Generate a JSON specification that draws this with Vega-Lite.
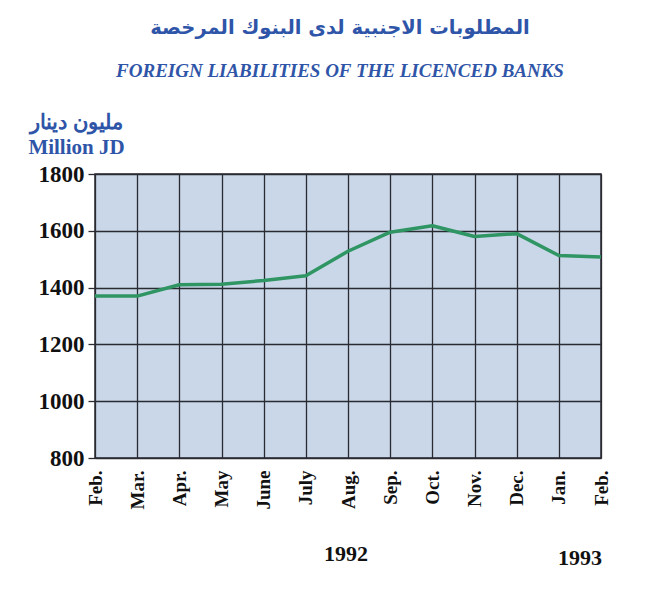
{
  "$schema": "https://vega.github.io/schema/vega-lite/v6.json",
  "autosize": "none",
  "width": 506,
  "height": 284,
  "padding": {"left": 95, "top": 174, "right": 49, "bottom": 143},
  "background": "white",
  "title": {
    "text": "المطلوبات الاجنبية لدى البنوك المرخصة",
    "subtitle": "FOREIGN LIABILITIES OF THE LICENCED BANKS",
    "anchor": "middle",
    "frame": "group",
    "offset": 29,
    "dx": -8,
    "font": "DejaVu Sans",
    "fontSize": 19.5,
    "fontWeight": "bold",
    "color": "#2f55a8",
    "subtitleFont": "Liberation Serif",
    "subtitleFontSize": 19,
    "subtitleFontWeight": "bold",
    "subtitleFontStyle": "italic",
    "subtitleColor": "#2f55a8",
    "subtitlePadding": 24
  },
  "config": {
    "view": {"fill": "#c9d7e9", "stroke": "#2a2a33", "strokeWidth": 1.5}
  },
  "datasets": {
    "series": [
      {"month": "Feb. 1992", "value": 1370},
      {"month": "Mar. 1992", "value": 1370},
      {"month": "Apr. 1992", "value": 1410},
      {"month": "May 1992", "value": 1412},
      {"month": "June 1992", "value": 1425},
      {"month": "July 1992", "value": 1442},
      {"month": "Aug. 1992", "value": 1528},
      {"month": "Sep. 1992", "value": 1595},
      {"month": "Oct. 1992", "value": 1618},
      {"month": "Nov. 1992", "value": 1580},
      {"month": "Dec. 1992", "value": 1590},
      {"month": "Jan. 1993", "value": 1513},
      {"month": "Feb. 1993", "value": 1508}
    ]
  },
  "layer": [
    {
      "data": {"name": "series"},
      "mark": {"type": "line", "color": "#2e9563", "strokeWidth": 3.5, "strokeJoin": "round"},
      "encoding": {
        "x": {
          "field": "month",
          "type": "ordinal",
          "sort": null,
          "scale": {"type": "point", "padding": 0},
          "axis": {
            "title": null,
            "labelExpr": "split(datum.value, ' ')[0]",
            "labelAngle": -90,
            "labelAlign": "right",
            "labelBaseline": "middle",
            "labelFont": "Liberation Serif",
            "labelFontSize": 19,
            "labelFontWeight": "bold",
            "labelColor": "#111111",
            "labelPadding": 12,
            "ticks": false,
            "domain": false,
            "grid": true,
            "gridColor": "#2a2a33",
            "gridWidth": 1.3,
            "gridOpacity": 1
          }
        },
        "y": {
          "field": "value",
          "type": "quantitative",
          "scale": {"domain": [800, 1800], "nice": false, "zero": false},
          "axis": {
            "values": [800, 1000, 1200, 1400, 1600, 1800],
            "format": "d",
            "title": ["مليون دينار", "Million JD"],
            "titleAngle": 0,
            "titleAlign": "center",
            "titleBaseline": "alphabetic",
            "titleX": -19,
            "titleY": -46,
            "titleFont": "Liberation Serif",
            "titleFontSize": 21,
            "titleFontWeight": "bold",
            "titleColor": "#2f55a8",
            "titleLineHeight": 25,
            "labelFont": "Liberation Serif",
            "labelFontSize": 23,
            "labelFontWeight": "bold",
            "labelColor": "#111111",
            "labelPadding": 4,
            "tickSize": 7,
            "tickColor": "#2a2a33",
            "tickWidth": 1.3,
            "domain": false,
            "grid": true,
            "gridColor": "#2a2a33",
            "gridWidth": 1.3,
            "gridOpacity": 1
          }
        }
      }
    },
    {
      "data": {"values": [{"year": "1992", "month": "Aug. 1992"}]},
      "mark": {"type": "text", "font": "Liberation Serif", "fontSize": 22, "fontWeight": "bold", "color": "#111111", "clip": false, "baseline": "middle", "align": "center", "dx": -2},
      "encoding": {
        "x": {"field": "month", "type": "ordinal", "sort": null},
        "y": {"datum": 462},
        "text": {"field": "year"}
      }
    },
    {
      "data": {"values": [{"year": "1993", "month": "Feb. 1993"}]},
      "mark": {"type": "text", "font": "Liberation Serif", "fontSize": 22, "fontWeight": "bold", "color": "#111111", "clip": false, "baseline": "middle", "align": "center", "dx": -21, "dy": 4},
      "encoding": {
        "x": {"field": "month", "type": "ordinal", "sort": null},
        "y": {"datum": 462},
        "text": {"field": "year"}
      }
    }
  ]
}
